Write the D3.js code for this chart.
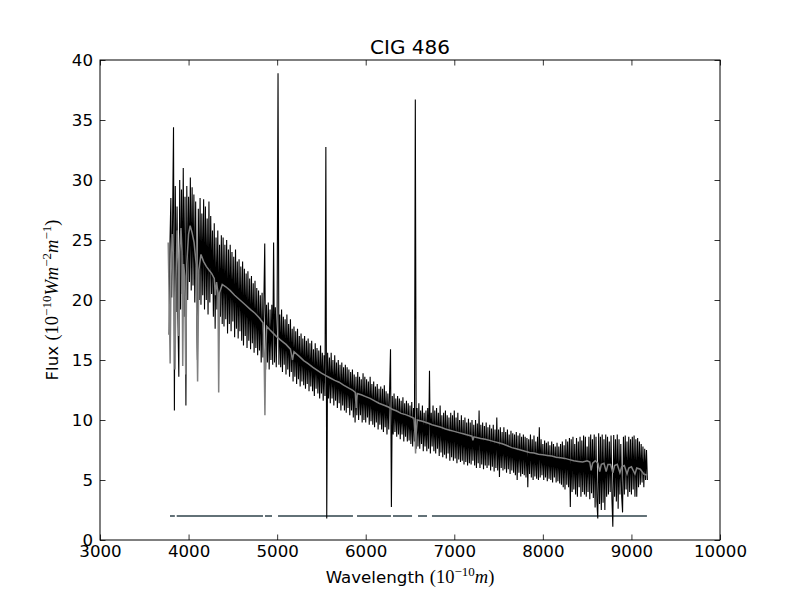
<!DOCTYPE html>
<html><head><meta charset="utf-8">
<script src="https://cdn.jsdelivr.net/npm/d3@7"></script>
<style>
body{margin:0;background:#fff}
svg{display:block}
text{font-family:"DejaVu Sans",sans-serif;fill:#000}
.math{font-family:"Liberation Serif","DejaVu Serif",serif}
</style>
</head><body>
<svg id="chart" width="800" height="600"></svg>
<script>
// ---------------- data ----------------
const chartTitle = "CIG 486";
const xTickValues = [3000, 4000, 5000, 6000, 7000, 8000, 9000, 10000];
const yTickValues = [0, 5, 10, 15, 20, 25, 30, 35, 40];

// observed spectrum: flux sampled every 10 Å starting at 3780 Å (one row = 100 Å)
const obsStart = 3780;
const obsStep = 10;
const obsFlux = [
  17.1, 24.8, 28.5, 20.2, 27.0, 34.4, 10.8, 29.5, 19.0, 27.8,
  18.5, 13.6, 30.0, 19.2, 29.2, 20.5, 31.0, 18.6, 28.6, 11.2,
  29.5, 20.0, 28.6, 21.5, 30.2, 20.8, 29.4, 21.2, 28.8, 19.8,
  28.2, 19.5, 15.0, 27.6, 20.0, 28.5, 19.6, 27.2, 20.4, 28.4,
  19.2, 27.8, 20.0, 26.8, 18.8, 28.2, 19.8, 27.0, 20.5, 25.8,
  18.6, 26.4, 17.6, 25.2, 19.2, 25.8, 17.5, 24.6, 18.6, 25.4,
  18.0, 25.2, 17.8, 24.6, 18.4, 25.0, 17.2, 24.2, 18.0, 24.6,
  17.4, 24.0, 18.2, 23.6, 16.9, 24.2, 17.6, 23.2, 16.8, 23.4,
  17.4, 22.8, 16.6, 23.2, 16.2, 22.6, 17.0, 22.2, 16.0, 22.4,
  16.6, 21.8, 15.9, 22.0, 16.4, 21.4, 15.6, 21.6, 16.0, 21.0,
  15.4, 20.8, 15.8, 20.4, 14.8, 20.6, 15.2, 19.8, 24.7, 14.2,
  19.6, 14.8, 19.8, 14.2, 19.2, 15.0, 19.6, 14.6, 24.8, 14.8,
  19.4, 14.4, 19.0, 38.9, 14.6, 18.8, 14.4, 19.2, 14.0, 18.6,
  14.6, 18.4, 13.8, 18.8, 14.2, 18.0, 13.6, 18.4, 14.0, 17.6,
  13.2, 17.8, 13.6, 17.4, 13.0, 17.6, 13.4, 17.0, 12.8, 17.2,
  13.2, 16.8, 12.9, 17.0, 12.6, 16.6, 13.0, 16.8, 12.4, 16.4,
  12.8, 16.6, 12.4, 15.9, 12.0, 16.4, 12.6, 16.0, 12.2, 15.8,
  11.8, 16.2, 12.2, 15.6, 11.6, 15.4, 12.0, 32.75, 1.8, 15.6,
  11.8, 15.2, 11.4, 15.6, 11.8, 15.0, 11.2, 15.4, 11.6, 14.8,
  11.0, 15.0, 11.4, 14.6, 10.8, 14.8, 11.2, 14.4, 10.8, 14.6,
  10.6, 14.4, 11.0, 14.2, 10.4, 14.0, 10.8, 14.2, 10.2, 13.8,
  9.8, 13.6, 10.4, 14.0, 10.0, 13.6, 10.4, 13.4, 9.8, 13.9,
  10.0, 13.6, 9.8, 13.4, 10.2, 13.2, 9.6, 13.6, 9.9, 13.0,
  9.6, 13.2, 9.4, 12.8, 9.8, 13.0, 9.2, 12.6, 9.6, 12.8,
  9.2, 12.6, 9.0, 12.9, 9.4, 12.4, 8.8, 12.2, 9.2, 12.6,
  15.9, 2.75, 12.0, 8.8, 12.2, 9.0, 11.8, 8.6, 12.0, 8.8,
  11.8, 8.4, 11.6, 8.8, 11.9, 8.2, 11.4, 8.6, 11.6, 8.2,
  11.4, 8.3, 11.2, 8.0, 11.5, 7.8, 11.0, 8.2, 36.7, 7.6,
  11.0, 7.8, 11.4, 7.6, 10.8, 8.0, 11.2, 7.4, 10.6, 7.8,
  10.8, 7.4, 11.0, 7.6, 14.1, 7.2, 10.6, 7.8, 11.2, 7.4,
  10.8, 7.2, 11.0, 7.6, 10.6, 7.0, 11.2, 7.3, 10.4, 6.9,
  10.6, 7.1, 10.8, 6.8, 10.4, 7.2, 10.2, 6.6, 10.6, 6.9,
  10.4, 6.6, 10.8, 6.8, 10.2, 6.4, 10.6, 6.7, 10.0, 6.5,
  10.4, 6.6, 10.0, 6.3, 10.2, 6.5, 9.8, 6.2, 10.1, 6.4,
  9.8, 6.3, 10.0, 6.6, 9.6, 6.2, 10.0, 6.0, 9.7, 6.4,
  10.8, 6.0, 9.6, 6.3, 9.8, 5.9, 9.5, 6.2, 9.8, 6.0,
  9.4, 6.2, 9.6, 5.8, 9.3, 6.1, 9.6, 5.7, 9.2, 6.0,
  10.2, 5.8, 9.2, 5.25, 9.4, 6.0, 9.0, 5.8, 9.4, 5.9,
  9.0, 5.6, 9.2, 5.9, 8.8, 5.5, 9.1, 5.8, 8.9, 5.6,
  8.8, 5.4, 9.0, 5.0, 8.7, 5.6, 8.9, 5.3, 8.6, 5.5,
  8.8, 5.4, 8.6, 5.2, 8.5, 4.4, 8.4, 5.5, 8.8, 5.2,
  8.4, 5.0, 8.7, 5.3, 8.2, 5.1, 8.6, 5.0, 9.4, 5.2,
  8.4, 5.4, 8.0, 5.0, 8.3, 5.2, 8.1, 4.9, 8.2, 5.1,
  7.9, 5.0, 8.2, 4.8, 8.0, 5.2, 7.8, 4.8, 8.1, 4.9,
  7.8, 4.7, 8.0, 4.6, 8.2, 4.4, 7.9, 4.2, 8.4, 4.6,
  8.2, 4.4, 8.5, 2.75, 8.4, 4.0, 8.6, 4.2, 8.0, 3.8,
  8.5, 3.6, 8.2, 4.4, 8.6, 3.6, 8.3, 4.0, 8.7, 3.8,
  8.6, 3.6, 7.8, 4.0, 8.6, 3.4, 8.8, 3.9, 8.4, 3.5,
  8.8, 2.7, 8.6, 3.2, 1.8, 8.9, 3.0, 8.6, 2.5, 8.8,
  3.1, 8.4, 2.5, 8.8, 3.6, 8.6, 3.8, 8.2, 4.0, 8.7,
  3.4, 1.1, 8.75, 3.6, 8.4, 3.2, 8.8, 2.6, 8.4, 3.8,
  8.0, 3.6, 2.3, 8.6, 3.8, 8.7, 4.2, 8.2, 3.6, 8.6,
  4.0, 8.4, 3.8, 8.6, 4.2, 8.7, 3.6, 8.4, 3.6, 8.5,
  4.4, 8.2, 4.6, 8.0, 4.8, 7.8, 4.4, 7.6, 5.0, 7.5,
  5.0
];

// fitted stellar model: [wavelength Å, flux]
const modelSpec = [
  [3770,24.8],[3782,19.5],[3792,14.7],[3802,22],[3815,25.5],[3828,24],[3840,19.5],[3847,14.2],
  [3856,21],[3870,25.8],[3883,23],[3890,17],[3900,24],[3914,26],[3926,24],[3934,14.5],
  [3944,23],[3957,22],[3968,13.8],[3980,23],[4000,25.5],[4018,26.2],[4040,25.6],[4062,24.8],
  [4086,23],[4102,13.2],[4116,22.5],[4140,23.8],[4170,23.2],[4200,22.8],[4230,22.5],[4262,22.2],
  [4290,21.8],[4302,20.4],[4316,21.5],[4332,20.6],[4340,12.3],[4350,20.6],[4380,21.3],[4420,21.1],
  [4468,20.8],[4520,20.4],[4580,20.0],[4640,19.6],[4700,19.2],[4750,18.9],[4800,18.5],[4840,18.1],
  [4853,15.5],[4862,10.4],[4870,15.8],[4882,17.8],[4920,17.5],[4960,17.2],[5000,16.9],[5050,16.6],
  [5100,16.3],[5150,15.9],[5174,15.0],[5190,15.7],[5250,15.3],[5300,14.95],[5350,14.7],[5400,14.4],
  [5450,14.15],[5500,13.9],[5550,13.7],[5600,13.5],[5650,13.3],[5700,13.15],[5750,12.9],[5800,12.7],
  [5850,12.5],[5882,12.3],[5893,11.0],[5904,12.2],[5950,12.1],[6000,11.95],[6050,11.8],[6100,11.6],
  [6150,11.4],[6200,11.25],[6250,11.1],[6300,10.9],[6350,10.75],[6400,10.55],[6450,10.45],[6500,10.3],
  [6545,10.15],[6556,8.8],[6563,7.2],[6570,8.9],[6582,10.0],[6640,9.9],[6700,9.75],[6750,9.6],
  [6800,9.5],[6850,9.4],[6900,9.25],[6950,9.15],[7000,9.05],[7050,8.95],[7100,8.85],[7150,8.75],
  [7200,8.65],[7210,8.3],[7222,8.6],[7300,8.45],[7350,8.4],[7400,8.3],[7450,8.2],[7500,8.1],
  [7550,8.0],[7600,7.85],[7650,7.7],[7700,7.6],[7750,7.5],[7800,7.4],[7850,7.3],[7900,7.25],
  [7950,7.15],[8000,7.1],[8050,7.05],[8100,7.0],[8150,6.9],[8200,6.85],[8250,6.8],[8300,6.7],
  [8350,6.6],[8400,6.55],[8450,6.5],[8500,6.6],[8530,6.5],[8545,5.8],[8562,6.4],[8592,6.6],
  [8622,6.4],[8642,5.7],[8660,6.3],[8690,6.4],[8715,5.7],[8735,6.3],[8765,6.3],[8790,5.6],
  [8810,6.2],[8840,6.3],[8870,5.6],[8890,6.1],[8920,6.2],[8950,5.5],[8970,6.0],[9000,6.1],
  [9040,5.5],[9060,6.0],[9100,5.9],[9140,5.5],[9178,5.4]
];

// masked (fitted) wavelength ranges, drawn at a constant level
const maskLevel = 2;
const maskRanges = [
  [3790,3845],[3866,4840],[4863,4942],[5010,5856],[5902,6285],[6308,6523],[6590,6692],[6748,9175]
];

// ---------------- drawing ----------------
const plot = {left:100, right:720, top:60, bottom:540};
const svg = d3.select("#chart");

const x = d3.scaleLinear().domain([3000, 10000]).range([plot.left, plot.right]);
const y = d3.scaleLinear().domain([0, 40]).range([plot.bottom, plot.top]);

svg.append("defs").append("clipPath").attr("id","clip")
  .append("rect").attr("x",plot.left).attr("y",plot.top)
  .attr("width",plot.right-plot.left).attr("height",plot.bottom-plot.top);

const g = svg.append("g").attr("clip-path","url(#clip)");

// mask segments
g.selectAll("line.mask").data(maskRanges).enter().append("line")
  .attr("class","mask")
  .attr("x1", d => x(d[0])).attr("x2", d => x(d[1]))
  .attr("y1", y(maskLevel)).attr("y2", y(maskLevel))
  .attr("stroke","#627177").attr("stroke-width",2);

// observed spectrum
const obsData = obsFlux.map((f,i) => [obsStart + i*obsStep, f]);
const line = d3.line().x(d => x(d[0])).y(d => y(d[1]));
g.append("path").datum(obsData)
  .attr("d", line).attr("fill","none")
  .attr("stroke","#000").attr("stroke-width",1.1).attr("stroke-linejoin","miter");

// model spectrum
g.append("path").datum(modelSpec)
  .attr("d", line).attr("fill","none")
  .attr("stroke","#808080").attr("stroke-width",1.5);

// axes
const tickLen = 5.5;
const fontSize = 16.67;
const axB = svg.append("g").attr("transform",`translate(0,${plot.bottom})`)
  .call(d3.axisBottom(x).tickValues(xTickValues).tickSizeInner(-tickLen).tickSizeOuter(0).tickPadding(5).tickFormat(d3.format("d")));
const axL = svg.append("g").attr("transform",`translate(${plot.left},0)`)
  .call(d3.axisLeft(y).tickValues(yTickValues).tickSizeInner(-tickLen).tickSizeOuter(0).tickPadding(7).tickFormat(d3.format("d")));
const axT = svg.append("g").attr("transform",`translate(0,${plot.top})`)
  .call(d3.axisTop(x).tickValues(xTickValues).tickSizeInner(-tickLen).tickSizeOuter(0).tickFormat(""));
const axR = svg.append("g").attr("transform",`translate(${plot.right},0)`)
  .call(d3.axisRight(y).tickValues(yTickValues).tickSizeInner(-tickLen).tickSizeOuter(0).tickFormat(""));

[axB, axL, axT, axR].forEach(a => {
  a.select(".domain").remove();
  a.selectAll(".tick line").attr("stroke","#000").attr("stroke-width",0.8);
  a.selectAll("text").attr("font-family","DejaVu Sans").attr("font-size",fontSize).attr("fill","#000");
});

// frame
svg.append("rect").attr("x",plot.left).attr("y",plot.top)
  .attr("width",plot.right-plot.left).attr("height",plot.bottom-plot.top)
  .attr("fill","none").attr("stroke","#000").attr("stroke-width",1);

// title
svg.append("text").attr("x",(plot.left+plot.right)/2).attr("y",53.5)
  .attr("text-anchor","middle").attr("font-size",20).text(chartTitle);

// math-like label builder
function buildLabel(sel, parts){
  parts.forEach(p => {
    const t = sel.append("tspan").text(p.t);
    if (p.math) t.attr("class","math").attr("font-size", p.sup ? 13 : 18.5);
    else t.attr("font-size", fontSize);
    if (p.it) t.attr("font-style","italic");
    if (p.dy) t.attr("dy", p.dy);
  });
}

const xl = svg.append("text").attr("x",(plot.left+plot.right)/2).attr("y",583)
  .attr("text-anchor","middle");
buildLabel(xl, [
  {t:"Wavelength "},
  {t:"(10", math:true},
  {t:"\u221210", math:true, sup:true, dy:-7},
  {t:"m", math:true, it:true, dy:7},
  {t:")", math:true}
]);

const yl = svg.append("text").attr("transform",`translate(58,${(plot.top+plot.bottom)/2}) rotate(-90)`)
  .attr("text-anchor","middle");
buildLabel(yl, [
  {t:"Flux "},
  {t:"(10", math:true},
  {t:"\u221210", math:true, sup:true, dy:-7},
  {t:"Wm", math:true, it:true, dy:7},
  {t:"\u22122", math:true, sup:true, dy:-7},
  {t:"m", math:true, it:true, dy:7},
  {t:"\u22121", math:true, sup:true, dy:-7},
  {t:")", math:true, dy:7}
]);
</script>
</body></html>
